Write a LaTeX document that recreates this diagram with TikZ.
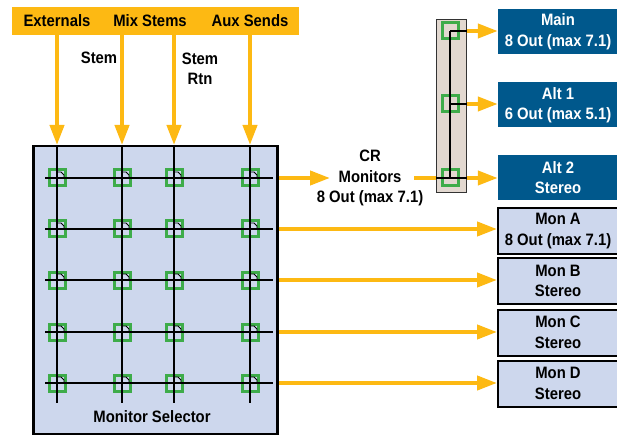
\documentclass[tikz,border=0pt]{standalone}
\usepackage{fontspec}
\setmainfont{Liberation Sans}[FakeStretch=0.9]
\usetikzlibrary{arrows.meta}
\definecolor{feedorange}{RGB}{253,185,19}
\definecolor{xgreen}{RGB}{62,172,74}
\definecolor{selblue}{RGB}{205,215,237}
\definecolor{outblue}{RGB}{0,88,140}
\definecolor{striptan}{RGB}{226,216,208}

\begin{document}
\begin{tikzpicture}[x=1pt,y=-1pt,font=\fontsize{16.5}{20.5}\selectfont\bfseries,
  feed/.style={draw=feedorange,line width=4pt,-{Triangle[length=20pt,width=14pt]}},
  xpt/.style={draw=xgreen,line width=3pt,minimum size=16pt,inner sep=0pt},
  wire/.style={line width=1.3pt},
  outbox/.style={fill=outblue,text=white,minimum width=120pt,minimum height=45pt,align=center,inner sep=0pt},
  monbox/.style={draw=black,line width=2pt,fill=selblue,minimum width=120pt,minimum height=46pt,align=center,inner sep=0pt}]
\useasboundingbox (0,0) rectangle (617,435);

\node[fill=feedorange,minimum width=287pt,minimum height=28pt,inner sep=0pt,anchor=north west] (banner) at (12,7) {};
\node (ext) at (57,21) {Externals};
\node (mix) at (150,21) {Mix Stems};
\node (aux) at (250,21) {Aux Sends};
\node (stem) at (99,58) {Stem};
\node[align=center] (stemrtn) at (200,69) {Stem\\Rtn};

\node[draw,line width=2.5pt,fill=selblue,minimum width=244pt,minimum height=288pt,inner sep=0pt,anchor=north west] (sel) at (32,145) {};
\node (sellabel) at (152,417) {Monitor Selector};

\foreach \c/\x in {1/57,2/122,3/174,4/250}
  \coordinate (col\c) at (\x,145);
\foreach \r/\y in {1/178,2/229,3/280,4/332,5/383} {
  \coordinate (rowL\r) at (45,\y);
  \coordinate (rowR\r) at (273,\y);
}
\coordinate (gridbot) at (0,403);

\foreach \c in {1,...,4}
  \draw[feed] (banner.south -| col\c) -- (col\c);

\foreach \c in {1,...,4}
  \foreach \r in {1,...,5}
    \node[xpt] (x\c\r) at (col\c |- rowL\r) {};
\foreach \r in {1,...,5}
  \draw[wire] (rowL\r) -- (rowR\r);
\foreach \c in {1,...,4}
  \draw[wire] (col\c) -- (col\c |- gridbot);
\foreach \c in {1,...,4}
  \foreach \r in {1,...,5}
    \draw[line width=0.8pt] ([shift={(0,-6)}]x\c\r.center) -- ++(4,0) -- ++(3,3) -- ++(0,3);

\node[align=center] (cr) at (370,178) {CR\\Monitors\\8 Out (max 7.1)};
\coordinate (crin) at (330,178);
\coordinate (crout) at (414,178);

\node[draw=black!80,line width=1.2pt,fill=striptan,minimum width=30pt,minimum height=173pt,inner sep=0pt,anchor=north west] (strip) at (436,19) {};
\node[xpt] (s1) at (450,31) {};
\node[xpt] (s2) at (450,104) {};
\node[xpt] (s3) at (450,178) {};

\draw[feed] (sel.east |- rowR1) -- (crin);
\draw[feedorange,line width=4pt] (crout) -- (s3 -| strip.west);
\draw[wire] (s1.center) -- (s3.center);
\draw[wire] (s1.center) -- (s1 -| strip.east);
\draw[wire] (s2.center) -- (s2 -| strip.east);
\draw[wire] (s3 -| strip.west) -- (s3 -| strip.east);

\node[outbox] (main) at (558,31.5) {Main\\8 Out (max 7.1)};
\node[outbox] (alt1) at (558,105) {Alt 1\\6 Out (max 5.1)};
\node[outbox] (alt2) at (558,177.5) {Alt 2\\Stereo};
\draw[feed] (s1 -| strip.east) -- (s1 -| main.west);
\draw[feed] (s2 -| strip.east) -- (s2 -| alt1.west);
\draw[feed] (s3 -| strip.east) -- (s3 -| alt2.west);

\node[monbox] (mona) at (558,231) {Mon A\\8 Out (max 7.1)};
\node[monbox] (monb) at (558,281) {Mon B\\Stereo};
\node[monbox] (monc) at (558,332.5) {Mon C\\Stereo};
\node[monbox] (mond) at (558,383.5) {Mon D\\Stereo};
\draw[feed] (sel.east |- rowR2) -- (rowR2 -| mona.west);
\draw[feed] (sel.east |- rowR3) -- (rowR3 -| monb.west);
\draw[feed] (sel.east |- rowR4) -- (rowR4 -| monc.west);
\draw[feed] (sel.east |- rowR5) -- (rowR5 -| mond.west);
\end{tikzpicture}
\end{document}
